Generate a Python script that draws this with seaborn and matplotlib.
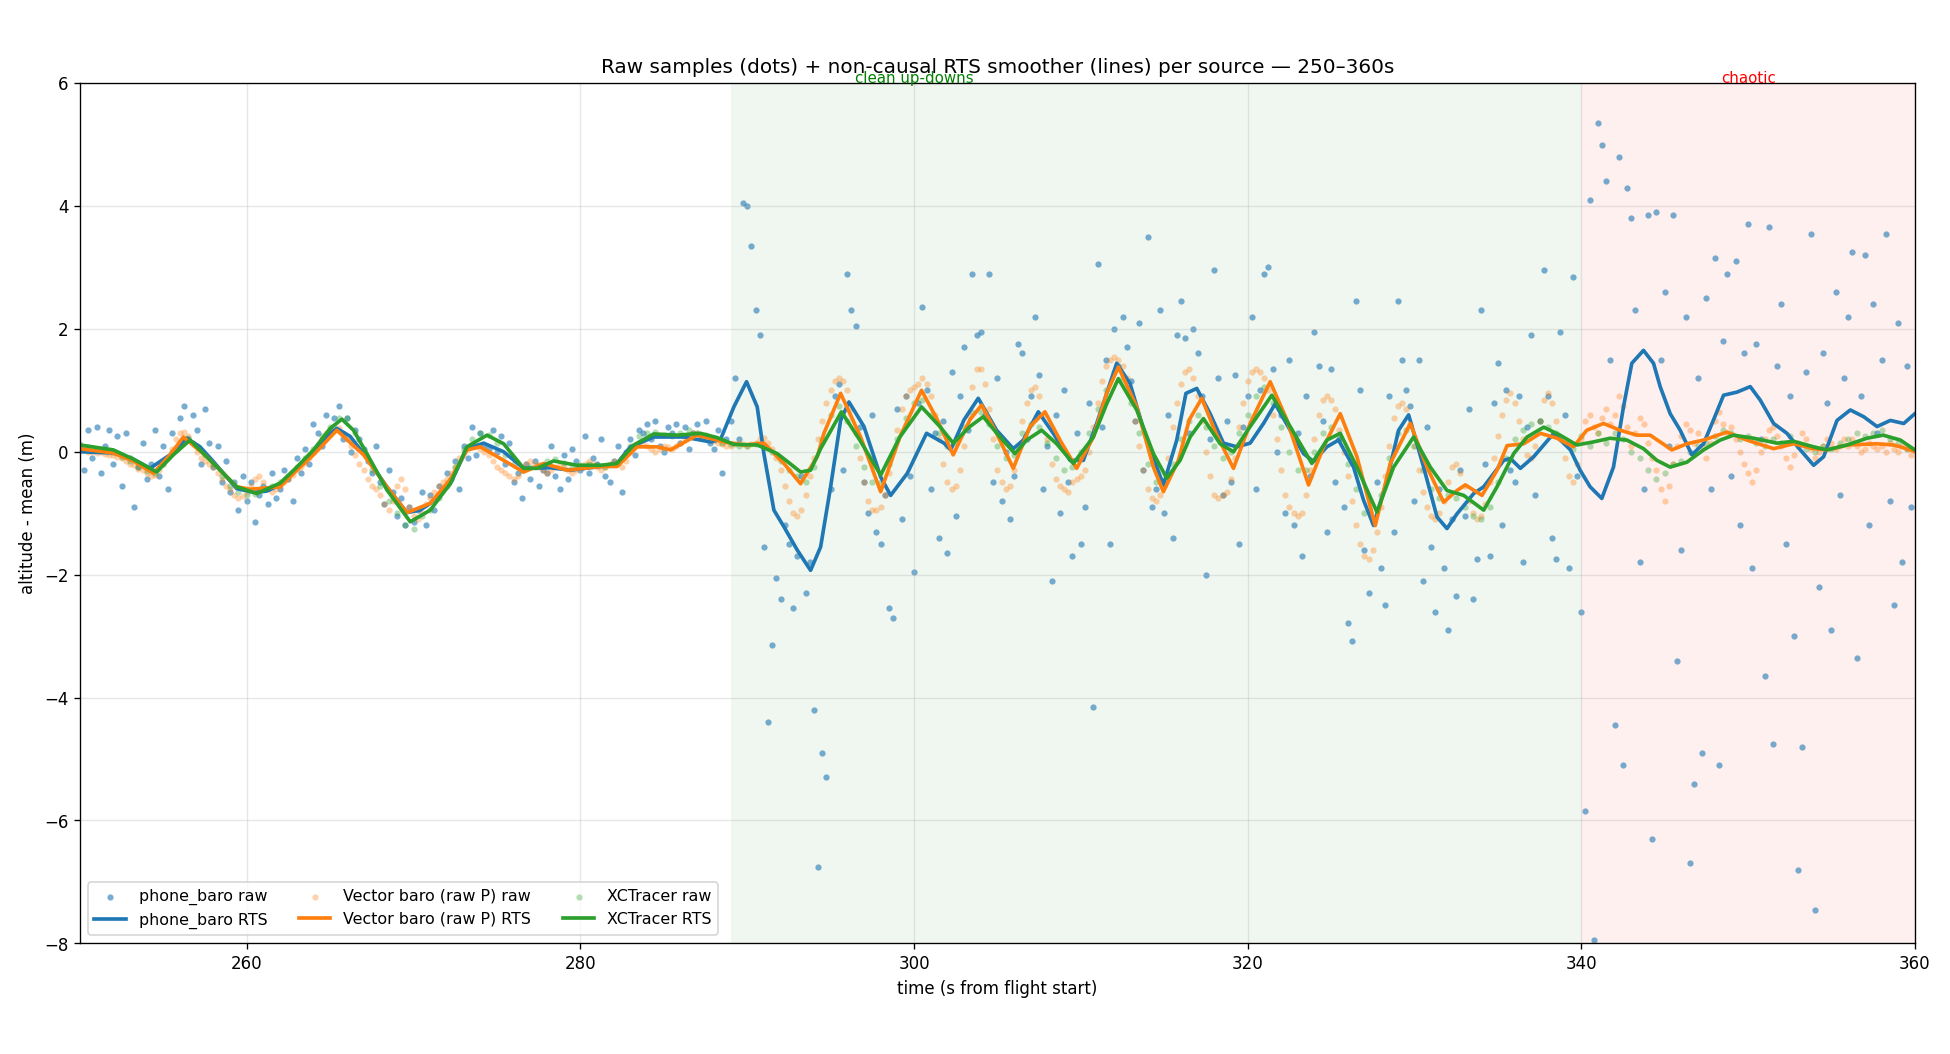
import matplotlib
matplotlib.use("Agg")
import matplotlib.pyplot as plt
import numpy as np
import seaborn as sns

# raw samples, phone_baro (4 Hz from 250 s)
phone_raw = [
    0.1, -0.3, 0.35, -0.1, 0.4, -0.35, 0.1, 0.35, -0.2, 0.25, -0.55, 0.3,
    -0.1, -0.9, -0.25, 0.15, -0.45, -0.2, 0.35, -0.4, 0.1, -0.6, 0.3, 0.05,
    0.55, 0.75, 0.2, 0.6, 0.35, -0.2, 0.7, 0.15, -0.25, 0.1, -0.5, -0.15,
    -0.65, -0.5, -0.95, -0.4, -0.8, -0.5, -1.15, -0.7, -0.55, -0.85, -0.35, -0.75,
    -0.6, -0.3, -0.45, -0.8, -0.1, -0.35, 0.05, -0.2, 0.45, 0.3, 0.1, 0.6,
    0.35, 0.55, 0.75, 0.2, 0.55, 0.0, 0.35, 0.2, 0.05, -0.15, -0.35, 0.1,
    -0.5, -0.85, -0.3, -0.65, -1.05, -0.75, -1.2, -0.9, -1.15, -0.95, -0.65, -1.2,
    -0.7, -0.95, -0.55, -0.6, -0.35, -0.45, -0.15, -0.6, 0.1, -0.1, 0.4, -0.05,
    0.3, 0.1, 0.05, 0.35, 0.0, 0.25, -0.2, 0.15, -0.5, -0.35, -0.75, -0.2,
    -0.45, -0.15, -0.55, -0.3, -0.35, 0.1, -0.4, -0.6, -0.05, -0.45, 0.05, -0.15,
    -0.3, 0.25, -0.35, -0.1, -0.2, 0.2, -0.4, -0.5, -0.15, 0.1, -0.65, 0.0,
    0.2, -0.05, 0.35, 0.3, 0.45, 0.2, 0.5, 0.1, 0.0, 0.4, 0.3, 0.45,
    0.15, 0.4, 0.05, 0.3, 0.45, 0.25, 0.5, 0.15, 0.05, 0.35, -0.35, 0.2,
    0.5, 1.2, 0.2, 4.05, 4.0, 3.35, 2.3, 1.9, -1.55, -4.4, -3.15, -2.05,
    -2.4, -1.2, -1.5, -2.55, -1.7, -0.4, -2.3, -1.8, -4.2, -6.75, -4.9, -5.3,
    -0.6, 0.9, 1.1, -0.3, 2.9, 2.3, 2.05, 0.4, -0.5, -1.0, 0.6, -1.3,
    -1.5, -0.7, -2.55, -2.7, 0.7, -1.1, 0.9, -0.4, -1.95, 0.8, 2.35, 1.0,
    -0.6, 0.3, -1.4, 0.5, -1.65, 1.3, -1.05, 0.9, 1.7, 0.35, 2.9, 1.9,
    1.95, 0.6, 2.9, -0.5, 1.2, -0.8, 0.0, -1.1, -0.4, 1.75, 1.6, 0.2,
    0.9, 2.2, 1.25, -0.6, 0.1, -2.1, 0.6, -1.0, 1.0, -0.5, -1.7, 0.3,
    -1.5, -0.9, 0.8, -4.15, 3.05, 0.4, 1.5, -1.5, 2.0, 1.4, 2.2, 1.7,
    1.15, 0.5, 2.1, -0.3, 3.5, -0.9, -0.6, 2.3, -1.0, 0.6, -1.4, 1.9,
    2.45, 1.85, 0.3, 2.0, 1.6, 0.9, -2.0, 0.2, 2.95, 1.2, -0.7, 0.5,
    -0.5, 1.25, -1.5, 0.4, 0.9, 2.2, -0.6, 1.0, 2.9, 3.0, 1.35, 0.0,
    0.6, -1.0, 1.5, -1.2, 0.3, -1.7, 0.9, -0.4, 1.95, 1.4, 0.5, -1.3,
    1.35, -0.5, 0.2, -0.9, -2.78, -3.08, 2.45, 1.0, -1.6, -2.3, -1.1, -0.5,
    -1.9, -2.5, 0.9, -1.3, 2.45, 1.5, 1.0, 0.75, -0.8, 1.5, -2.1, 0.4,
    -1.55, -2.6, -0.6, -1.9, -2.9, -1.1, -2.35, -0.3, -1.05, 0.7, -2.4, -1.75,
    2.3, -0.2, -1.7, 0.8, 1.45, -1.2, 1.0, -0.3, -0.5, 0.9, -1.8, 0.4,
    1.9, -0.7, 0.5, 2.95, 0.9, -1.4, -1.75, 1.95, 0.6, -1.9, 2.85, -0.4,
    -2.6, -5.85, 4.1, -7.95, 5.35, 5.0, 4.4, 1.5, -4.45, 4.8, -5.1, 4.3,
    3.8, 2.3, -1.8, -0.6, 3.85, -6.3, 3.9, 1.5, 2.6, 0.1, 3.85, -3.4,
    -1.6, 2.2, -6.7, -5.4, 1.2, -4.9, 2.5, -0.6, 3.15, -5.1, 1.8, 2.9,
    -0.4, 3.1, -1.2, 1.6, 3.7, -1.9, 1.75, 0.2, -3.65, 3.65, -4.75, 1.4,
    2.4, -1.5, 0.9, -3.0, -6.8, -4.8, 1.3, 3.55, -7.45, -2.2, 1.6, 0.8,
    -2.9, 2.6, -0.7, 1.2, 2.2, 3.25, -3.35, 0.9, 3.2, -1.2, 2.4, 0.3,
    1.5, 3.55, -0.8, -2.5, 2.1, -1.8, 1.4, -0.9,
]

# raw samples, Vector baro (raw P), 4 Hz from 250 s
vector_raw = [
    0.05, 0.03, 0.0, 0.0, -0.02, 0.0, -0.03, -0.05, -0.05, -0.08, -0.1, -0.15,
    -0.2, -0.22, -0.28, -0.3, -0.35, -0.4, -0.38, -0.3, -0.2, -0.1, 0.05, 0.2,
    0.3, 0.32, 0.25, 0.15, 0.0, -0.1, -0.15, -0.2, -0.25, -0.35, -0.45, -0.55,
    -0.6, -0.7, -0.75, -0.72, -0.65, -0.55, -0.45, -0.4, -0.5, -0.6, -0.65, -0.6,
    -0.55, -0.5, -0.45, -0.38, -0.3, -0.25, -0.18, -0.1, 0.0, 0.1, 0.2, 0.3,
    0.35, 0.4, 0.38, 0.3, 0.2, 0.1, -0.05, -0.2, -0.3, -0.45, -0.55, -0.6,
    -0.7, -0.85, -0.95, -0.8, -0.55, -0.45, -0.6, -0.9, -1.05, -1.1, -1.0, -0.85,
    -0.75, -0.65, -0.55, -0.5, -0.45, -0.35, -0.25, -0.1, 0.0, 0.05, 0.1, 0.1,
    0.05, 0.0, -0.05, -0.15, -0.25, -0.3, -0.35, -0.4, -0.45, -0.4, -0.3, -0.2,
    -0.15, -0.2, -0.25, -0.3, -0.35, -0.3, -0.25, -0.2, -0.25, -0.3, -0.35, -0.3,
    -0.25, -0.2, -0.15, -0.2, -0.25, -0.3, -0.25, -0.2, -0.15, -0.2, -0.25, -0.15,
    0.0, 0.1, 0.15, 0.12, 0.1, 0.05, 0.0, 0.05, 0.1, 0.08, 0.05, 0.1,
    0.15, 0.2, 0.25, 0.3, 0.3, 0.28, 0.22, 0.2, 0.18, 0.15, 0.12, 0.1,
    0.1, 0.12, 0.15, 0.12, 0.1, 0.12, 0.15, 0.2, 0.22, 0.15, 0.05, -0.1,
    -0.3, -0.55, -0.8, -1.0, -1.05, -0.95, -0.7, -0.4, -0.1, 0.2, 0.5, 0.8,
    1.0, 1.15, 1.2, 1.15, 1.0, 0.7, 0.3, -0.1, -0.5, -0.8, -0.95, -0.95,
    -0.9, -0.7, -0.35, 0.0, 0.35, 0.7, 0.9, 1.0, 1.05, 1.1, 1.2, 1.1,
    0.9, 0.6, 0.2, -0.2, -0.5, -0.6, -0.55, -0.3, 0.1, 0.6, 1.05, 1.35,
    1.35, 1.1, 0.7, 0.2, -0.3, -0.5, -0.6, -0.55, -0.3, 0.1, 0.5, 0.8,
    1.0, 1.05, 0.9, 0.6, 0.2, -0.2, -0.45, -0.55, -0.6, -0.65, -0.5, -0.45,
    -0.4, -0.3, 0.0, 0.4, 0.8, 1.15, 1.4, 1.5, 1.55, 1.5, 1.4, 1.2,
    0.9, 0.5, 0.1, -0.3, -0.6, -0.75, -0.8, -0.7, -0.5, -0.1, 0.4, 0.8,
    1.1, 1.3, 1.35, 1.2, 0.9, 0.5, 0.0, -0.4, -0.7, -0.75, -0.7, -0.65,
    -0.45, -0.1, 0.4, 0.8, 1.15, 1.3, 1.35, 1.3, 1.2, 1.0, 0.6, 0.2,
    -0.3, -0.7, -0.9, -1.0, -1.05, -1.0, -0.7, -0.3, 0.2, 0.6, 0.85, 0.9,
    0.85, 0.7, 0.35, 0.0, -0.4, -0.8, -1.2, -1.5, -1.7, -1.75, -1.6, -1.3,
    -0.9, -0.4, 0.1, 0.55, 0.75, 0.8, 0.7, 0.45, 0.1, -0.3, -0.65, -0.9,
    -1.05, -1.1, -1.0, -0.8, -0.5, -0.25, -0.2, -0.35, -0.55, -0.8, -1.0, -1.1,
    -1.05, -0.85, -0.5, -0.1, 0.25, 0.6, 0.85, 0.95, 0.8, 0.5, 0.2, -0.05,
    -0.1, 0.1, 0.5, 0.85, 0.95, 0.8, 0.5, 0.2, -0.1, -0.4, -0.5, -0.2,
    0.2, 0.5, 0.6, 0.4, 0.3, 0.55, 0.7, 0.45, 0.6, 0.9, 0.75, 0.4,
    0.1, 0.3, 0.55, 0.45, 0.15, -0.1, -0.3, -0.6, -0.8, -0.55, -0.2, 0.1,
    0.25, 0.45, 0.35, 0.15, 0.3, 0.1, -0.1, 0.15, 0.5, 0.65, 0.45, 0.3,
    0.4, 0.2, 0.0, -0.2, -0.35, -0.5, -0.3, 0.0, 0.2, 0.35, 0.4, 0.25,
    0.1, -0.1, -0.25, -0.05, 0.15, 0.3, 0.2, 0.05, -0.1, 0.0, 0.1, 0.2,
    0.15, 0.05, 0.1, 0.2, 0.1, 0.2, 0.1, 0.0, 0.05, 0.15, 0.1, 0.05,
    0.1, 0.0, 0.15, 0.05, 0.0, 0.1, 0.05, -0.05,
]

# raw samples, XCTracer, 2 Hz from 250 s
xctracer_raw = [
    0.12, 0.08, 0.05, 0.04, 0.0, -0.08, -0.15, -0.25, -0.32, -0.35, -0.2, 0.0,
    0.15, 0.22, 0.1, -0.05, -0.2, -0.4, -0.55, -0.65, -0.7, -0.68, -0.62, -0.55,
    -0.5, -0.4, -0.25, -0.1, 0.05, 0.25, 0.4, 0.55, 0.55, 0.3, 0.0, -0.3,
    -0.55, -0.8, -1.0, -1.2, -1.25, -1.05, -0.95, -0.75, -0.55, -0.25, 0.05, 0.2,
    0.3, 0.28, 0.15, -0.05, -0.2, -0.3, -0.25, -0.22, -0.15, -0.12, -0.18, -0.25,
    -0.22, -0.2, -0.22, -0.25, -0.2, -0.1, 0.1, 0.25, 0.3, 0.32, 0.28, 0.25,
    0.3, 0.35, 0.3, 0.28, 0.22, 0.15, 0.12, 0.1, 0.1, 0.12, 0.08, 0.0,
    -0.15, -0.3, -0.4, -0.5, -0.25, 0.2, 0.6, 0.75, 0.5, 0.1, -0.25, -0.5,
    -0.5, -0.2, 0.2, 0.55, 0.8, 0.85, 0.6, 0.3, 0.1, 0.15, 0.4, 0.65,
    0.65, 0.45, 0.1, -0.1, -0.05, 0.3, 0.45, 0.4, 0.15, -0.1, -0.3, -0.25,
    0.0, 0.3, 0.7, 1.0, 1.3, 1.2, 0.8, 0.3, -0.2, -0.5, -0.55, -0.2,
    0.2, 0.5, 0.6, 0.4, 0.1, -0.1, 0.0, 0.3, 0.6, 0.9, 1.05, 0.8,
    0.4, 0.0, -0.3, -0.3, 0.0, 0.3, 0.4, 0.2, -0.2, -0.6, -1.0, -1.15,
    -0.7, -0.1, 0.3, 0.35, 0.1, -0.3, -0.6, -0.75, -0.7, -0.75, -0.9, -1.05,
    -1.1, -0.9, -0.5, -0.1, 0.2, 0.35, 0.45, 0.5, 0.4, 0.3, 0.15, 0.05,
    0.25, 0.1, 0.3, 0.15, 0.3, 0.2, 0.0, -0.1, -0.3, -0.45, -0.35, -0.2,
    -0.15, 0.0, 0.1, 0.15, 0.25, 0.35, 0.3, 0.2, 0.25, 0.15, 0.1, 0.2,
    0.15, 0.25, 0.1, 0.05, 0.0, 0.1, 0.05, 0.15, 0.2, 0.3, 0.25, 0.3,
    0.35, 0.2, 0.15, 0.05,
]

# RTS smoother knots (time, value)
phone_rts_t = [
    250.0, 252.0, 253.2, 254.2, 255.4, 256.4, 257.2, 258.0, 259.4, 260.4, 261.2, 262.0,
    263.0, 264.0, 264.8, 265.4, 266.2, 267.0, 268.4, 269.6, 270.4, 271.0, 272.2, 273.2,
    274.2, 275.4, 276.6, 278.2, 279.4, 281.2, 282.2, 283.0, 284.4, 286.2, 287.8, 288.4,
    289.2, 289.96, 290.6, 291.0, 291.6, 292.2, 293.0, 293.8, 294.4, 295.0, 295.6, 296.1,
    297.0, 298.0, 298.6, 299.6, 300.75, 301.8, 302.2, 303.0, 303.85, 304.95, 305.95, 306.55,
    307.45, 308.35, 309.35, 310.15, 310.95, 312.15, 312.95, 313.95, 314.95, 315.75, 316.3, 316.95,
    317.75, 318.55, 319.35, 320.15, 320.95, 321.65, 322.55, 323.35, 323.95, 324.75, 325.45, 326.35,
    326.95, 327.55, 328.35, 329.05, 329.65, 330.55, 331.35, 331.95, 332.55, 333.55, 334.15, 335.35,
    335.75, 336.35, 337.15, 338.35, 339.35, 339.93, 340.53, 341.23, 341.93, 342.53, 343.03, 343.73,
    344.33, 344.73, 345.33, 345.93, 346.63, 347.33, 347.93, 348.53, 349.33, 350.13, 350.73, 351.53,
    352.33, 353.13, 353.93, 354.53, 355.33, 356.13, 356.93, 357.73, 358.53, 359.33, 360.0,
]
phone_rts = [
    0.0, -0.02, -0.12, -0.27, -0.05, 0.22, 0.08, -0.16, -0.6, -0.66, -0.64, -0.54,
    -0.28, 0.0, 0.25, 0.38, 0.25, -0.03, -0.57, -0.99, -0.95, -0.84, -0.52, 0.05,
    0.14, 0.0, -0.27, -0.26, -0.3, -0.24, -0.19, 0.08, 0.24, 0.24, 0.16, 0.2,
    0.73, 1.14, 0.73, -0.03, -0.95, -1.22, -1.6, -1.93, -1.55, -0.57, 0.51, 0.81,
    0.41, -0.41, -0.71, -0.35, 0.3, 0.14, 0.03, 0.52, 0.87, 0.35, 0.05, 0.19,
    0.65, 0.3, -0.14, -0.14, 0.46, 1.44, 1.11, 0.19, -0.54, 0.19, 0.95, 1.03,
    0.62, 0.14, 0.08, 0.14, 0.46, 0.78, 0.35, -0.03, -0.16, 0.08, 0.19, -0.25,
    -0.79, -1.2, -0.46, 0.35, 0.6, -0.25, -1.06, -1.25, -1.01, -0.68, -0.57, -0.14,
    -0.11, -0.27, -0.08, 0.3, 0.03, -0.3, -0.57, -0.76, -0.25, 0.73, 1.44, 1.65,
    1.44, 1.06, 0.62, 0.35, -0.05, 0.13, 0.52, 0.92, 0.97, 1.06, 0.84, 0.46,
    0.3, 0.03, -0.22, -0.08, 0.51, 0.68, 0.57, 0.41, 0.51, 0.46, 0.62,
]

vector_rts_t = [
    250.0, 252.0, 253.2, 254.4, 255.4, 256.2, 257.6, 259.4, 260.2, 262.0, 263.0, 264.0,
    265.4, 267.0, 268.4, 269.6, 271.0, 272.2, 273.2, 274.0, 275.4, 276.6, 277.8, 279.2,
    281.2, 282.2, 283.4, 284.6, 285.4, 287.0, 288.6, 289.8, 291.0, 292.2, 293.2, 294.2,
    294.6, 295.6, 296.8, 298.0, 299.15, 300.45, 301.4, 302.35, 303.35, 304.05, 304.95, 305.95,
    306.95, 307.85, 308.75, 309.75, 310.75, 311.55, 312.25, 313.35, 314.35, 314.95, 315.85, 316.5,
    317.25, 318.1, 319.15, 320.15, 321.35, 322.35, 323.65, 324.55, 325.55, 326.55, 327.65, 328.55,
    329.75, 330.75, 331.75, 332.55, 333.05, 334.05, 334.95, 335.55, 336.55, 337.55, 338.55, 339.53,
    340.33, 341.33, 342.33, 343.33, 344.13, 344.73, 345.43, 346.33, 347.33, 348.73, 349.93, 351.53,
    352.73, 353.93, 354.73, 355.93, 357.73, 358.73, 359.73, 360.0,
]
vector_rts = [
    0.05, -0.02, -0.15, -0.35, -0.05, 0.24, -0.08, -0.57, -0.61, -0.57, -0.3, -0.05,
    0.35, -0.05, -0.57, -0.99, -0.84, -0.45, 0.03, 0.08, -0.14, -0.33, -0.19, -0.3,
    -0.24, -0.24, 0.08, 0.08, 0.03, 0.27, 0.16, 0.11, 0.14, -0.19, -0.52, -0.08,
    0.3, 0.95, 0.24, -0.65, 0.24, 1.0, 0.52, -0.05, 0.52, 0.76, 0.3, -0.27,
    0.41, 0.65, 0.19, -0.27, 0.24, 0.95, 1.38, 0.73, -0.25, -0.65, -0.14, 0.52,
    0.87, 0.3, -0.27, 0.46, 1.14, 0.52, -0.54, 0.08, 0.62, -0.08, -1.2, -0.19,
    0.46, -0.25, -0.82, -0.63, -0.54, -0.71, -0.3, 0.1, 0.13, 0.3, 0.22, 0.08,
    0.35, 0.46, 0.35, 0.27, 0.27, 0.16, 0.03, 0.13, 0.19, 0.32, 0.19, 0.05,
    0.13, 0.05, 0.03, 0.11, 0.13, 0.11, 0.03, 0.0,
]

xctracer_rts_t = [
    250.0, 252.0, 253.2, 254.6, 255.6, 256.6, 258.0, 259.4, 260.6, 262.0, 263.0, 264.0,
    265.0, 265.7, 266.4, 267.2, 268.4, 269.8, 271.0, 272.2, 273.2, 274.4, 275.4, 276.6,
    277.4, 278.4, 279.8, 281.2, 282.2, 283.2, 284.4, 285.8, 287.2, 288.2, 289.2, 290.6,
    291.8, 292.6, 293.2, 293.8, 294.4, 295.65, 296.75, 298.0, 299.15, 300.45, 301.55, 302.35,
    303.35, 304.15, 305.15, 306.05, 306.75, 307.65, 308.55, 309.55, 310.75, 311.55, 312.25, 313.35,
    314.35, 315.15, 315.95, 316.55, 317.35, 318.35, 319.15, 320.15, 321.45, 322.55, 323.85, 324.75,
    325.55, 326.55, 327.75, 328.75, 329.95, 330.95, 331.95, 332.95, 334.15, 334.95, 335.95, 336.75,
    337.75, 338.73, 339.73, 340.73, 341.73, 342.73, 343.73, 344.53, 345.33, 346.33, 347.33, 348.33,
    349.13, 350.33, 351.73, 352.73, 353.93, 354.73, 355.93, 357.13, 358.1, 359.13, 360.0,
]
xctracer_rts = [
    0.11, 0.03, -0.12, -0.33, -0.05, 0.19, -0.19, -0.57, -0.68, -0.51, -0.25, 0.03,
    0.38, 0.53, 0.35, -0.03, -0.62, -1.14, -0.95, -0.52, 0.08, 0.27, 0.13, -0.27,
    -0.27, -0.15, -0.22, -0.22, -0.19, 0.11, 0.29, 0.27, 0.3, 0.23, 0.12, 0.11,
    -0.03, -0.2, -0.33, -0.3, 0.05, 0.65, 0.19, -0.38, 0.24, 0.73, 0.41, 0.14,
    0.41, 0.57, 0.24, -0.03, 0.19, 0.35, 0.13, -0.19, 0.24, 0.78, 1.19, 0.68,
    -0.03, -0.43, -0.14, 0.24, 0.54, 0.13, 0.0, 0.41, 0.92, 0.41, -0.19, 0.19,
    0.3, -0.25, -0.98, -0.25, 0.24, -0.25, -0.63, -0.71, -0.95, -0.57, -0.03, 0.24,
    0.4, 0.27, 0.11, 0.16, 0.22, 0.19, 0.05, -0.14, -0.25, -0.17, 0.03, 0.19,
    0.27, 0.22, 0.14, 0.17, 0.08, 0.03, 0.11, 0.22, 0.27, 0.19, 0.03,
]

phone_t = 250 + 0.25 * np.arange(len(phone_raw))
vector_t = 250 + 0.25 * np.arange(len(vector_raw))
xctracer_t = 250 + 0.5 * np.arange(len(xctracer_raw))

plt.rcParams["font.family"] = ["DejaVu Sans"]

fig, ax = plt.subplots(figsize=(16.25, 8.785), dpi=120)
fig.subplots_adjust(left=0.041, right=0.982, top=0.921, bottom=0.105)

ax.axvspan(289, 340, color="green", alpha=0.06, lw=0)
ax.axvspan(340, 360, color="red", alpha=0.06, lw=0)

sources = [
    ("phone_baro", phone_t, phone_raw, phone_rts_t, phone_rts, "C0", 0.6),
    ("Vector baro (raw P)", vector_t, vector_raw, vector_rts_t, vector_rts, "C1", 0.35),
    ("XCTracer", xctracer_t, xctracer_raw, xctracer_rts_t, xctracer_rts, "C2", 0.35),
]
for name, rt, rv, lt, lv, col, a in sources:
    sns.scatterplot(x=rt, y=rv, ax=ax, color=col, alpha=a, s=14, linewidth=0,
                    label=f"{name} raw")
    sns.lineplot(x=lt, y=lv, ax=ax, color=col, lw=2.2, sort=False, estimator=None,
                 label=f"{name} RTS")

ax.text(300, 5.95, "clean up-downs", color="green", ha="center", va="bottom", fontsize=9)
ax.text(350, 5.95, "chaotic", color="red", ha="center", va="bottom", fontsize=9)

ax.set_xlim(250, 360)
ax.set_ylim(-8, 6)
ax.set_yticks(range(-8, 7, 2))
ax.grid(True, alpha=0.3)
ax.set_xlabel("time (s from flight start)")
ax.set_ylabel("altitude - mean (m)")
ax.set_title("Raw samples (dots) + non-causal RTS smoother (lines) per source \u2014 250\u2013360s")
ax.legend(loc="lower left", ncol=3, fontsize=9.5)

fig.savefig("out.png", dpi=120)
